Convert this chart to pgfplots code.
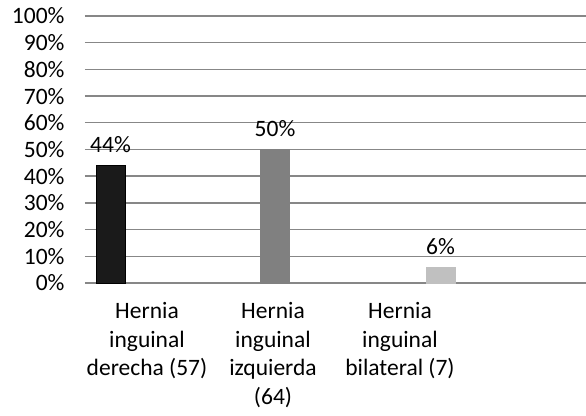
\documentclass[border=0pt]{standalone}
\usepackage{pgfplots}
\pgfplotsset{compat=1.18}
\usepackage{fontspec}
\setmainfont{Carlito}
\definecolor{gridc}{RGB}{135,135,135}
\definecolor{bara}{RGB}{26,26,26}
\definecolor{barb}{RGB}{128,128,128}
\definecolor{barc}{RGB}{192,192,192}
\begin{document}
\begin{tikzpicture}
\useasboundingbox (-85bp,-133bp) rectangle (501bp,283bp);
\begin{axis}[
  at={(0,0)}, anchor=south west,
  scale only axis, width=501bp, height=267bp,
  xmin=85, xmax=586, ymin=0, ymax=100,
  axis line style={draw=none},
  major tick length=0pt,
  ytick={0,10,...,100},
  yticklabel={\pgfmathprintnumber{\tick}\%},
  /pgf/number format/assume math mode=true,
  ymajorgrids, grid style={draw=gridc, line width=1.4bp},
  xtick={147,273,400},
  xticklabels={{Hernia\\inguinal\\derecha (57)},{Hernia\\inguinal\\izquierda\\(64)},{Hernia\\inguinal\\bilateral (7)}},
  xticklabel style={align=center, font=\fontsize{23.5bp}{28.5bp}\selectfont, yshift=-16bp},
  yticklabel style={font=\fontsize{23.5bp}{26bp}\selectfont, xshift=-17bp},
  every node near coord/.style={font=\fontsize{23.5bp}{26bp}\selectfont, yshift=9bp, black},
  clip=false,
]
\addplot[ybar, bar width=29bp, bar shift=0pt, fill=bara, draw=black, nodes near coords={\pgfmathprintnumber{\pgfplotspointmeta}\%}] coordinates {(110.5,44)};
\addplot[ybar, bar width=29bp, bar shift=0pt, fill=barb, draw=barb, nodes near coords={\pgfmathprintnumber{\pgfplotspointmeta}\%}] coordinates {(275,50)};
\addplot[ybar, bar width=29bp, bar shift=0pt, fill=barc, draw=barc, nodes near coords={\pgfmathprintnumber{\pgfplotspointmeta}\%}] coordinates {(440.5,6)};
\end{axis}
\end{tikzpicture}
\end{document}
